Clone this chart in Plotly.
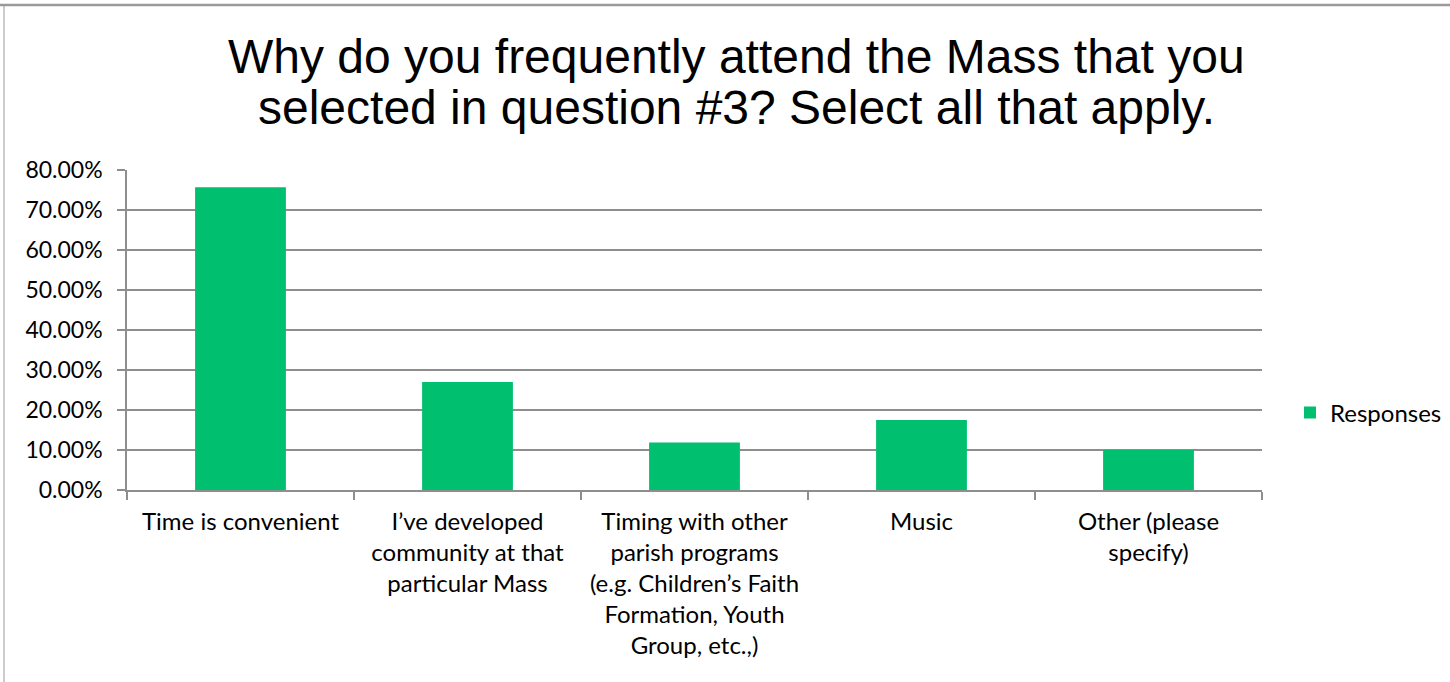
import plotly.graph_objects as go

categories = [
    "Time is convenient",
    "I\u2019ve developed<br>community at that<br>particular Mass",
    "Timing with other<br>parish programs<br>(e.g. Children\u2019s Faith<br>Formation, Youth<br>Group, etc.,)",
    "Music",
    "Other (please<br>specify)",
]
responses = [0.7569, 0.2701, 0.1190, 0.1748, 0.1000]
series_name = "Responses"
title_lines = [
    "Why do you frequently attend the Mass that you",
    "selected in question #3? Select all that apply.",
]

W, H = 1450, 682
L, R, T, B = 127, 1262, 170, 490
pw, ph = R - L, B - T

def px(x):
    return (x - L) / pw

def py(y):
    return (B - y) / ph

fig = go.Figure()
fig.add_trace(go.Bar(
    x=categories, y=responses, name=series_name,
    marker=dict(color="#00BF6F", line=dict(width=0)),
    width=0.4, showlegend=True,
))

grid = "#8E8E8E"
fam = "Lato, Carlito, Calibri, sans-serif"
xfont = dict(family=fam, size=24, color="#000000")
yfont = dict(family=fam, size=23, color="#000000")

fig.update_layout(
    width=W, height=H,
    margin=dict(l=L, r=W - R, t=T, b=H - B, autoexpand=False),
    paper_bgcolor="white", plot_bgcolor="white",
    showlegend=True,
    legend=dict(x=px(1290), y=py(413), xanchor="left", yanchor="middle",
                font=xfont, bgcolor="rgba(0,0,0,0)", itemsizing="constant"),
    bargap=0.6,
    xaxis=dict(type="category", showline=True, linecolor=grid, linewidth=1.5,
               ticks="outside", tickson="boundaries", ticklen=8, tickcolor=grid, tickwidth=1.5,
               showgrid=False, tickfont=xfont, tickangle=0, ticklabelstandoff=9),
    yaxis=dict(range=[0, 0.8], tickvals=[0, 0.1, 0.2, 0.3, 0.4, 0.5, 0.6, 0.7, 0.8],
               tickformat=".2%", showline=True, linecolor=grid, linewidth=1.5,
               ticks="outside", ticklen=8, tickcolor=grid, tickwidth=1.5,
               showgrid=True, gridcolor=grid, gridwidth=1.5, zeroline=False,
               tickfont=yfont, ticklabelstandoff=10),
)

for i, (line, ymid) in enumerate(zip(title_lines, [56, 108])):
    fig.add_annotation(text=line, xref="paper", yref="paper",
                       x=px(736), y=py(ymid), xanchor="center", yanchor="middle",
                       showarrow=False,
                       font=dict(family="Liberation Sans, Arial, sans-serif", size=48, color="#000000"))

# outer frame lines (top and left) of the embedded chart
fig.add_shape(type="line", xref="paper", yref="paper",
              x0=px(0), x1=px(W), y0=py(5), y1=py(5),
              line=dict(color="#9A9A9A", width=2.5))
fig.add_shape(type="line", xref="paper", yref="paper",
              x0=px(4), x1=px(4), y0=py(5), y1=py(H),
              line=dict(color="#9A9A9A", width=1))

fig.write_html("out.html", config={"displayModeBar": False},
               post_script="document.body.style.margin='0';")
